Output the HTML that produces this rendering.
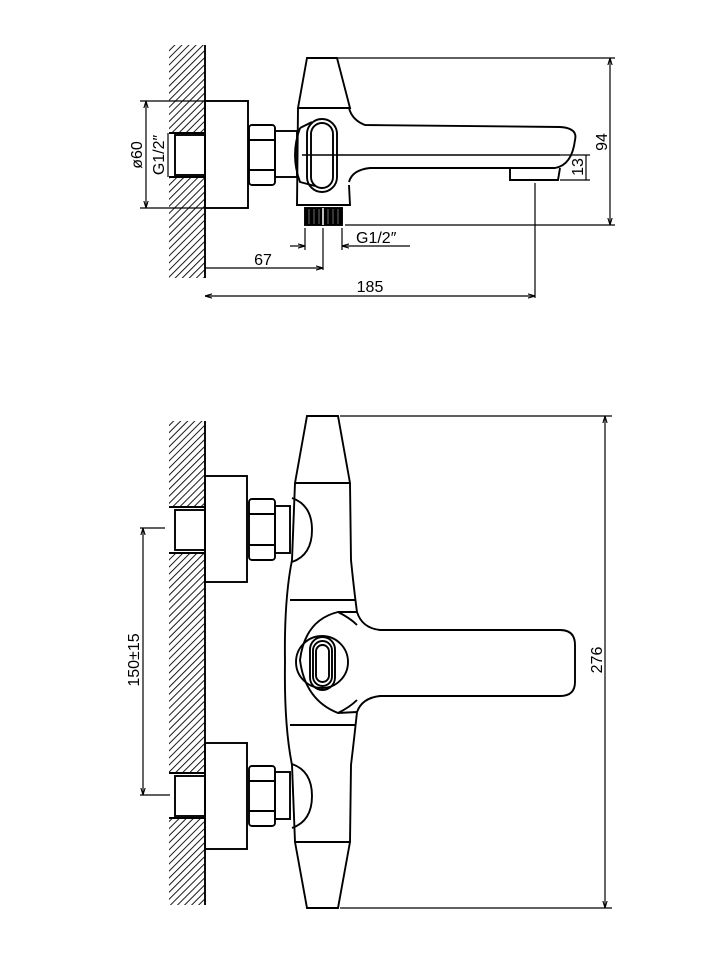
<!DOCTYPE html>
<html><head><meta charset="utf-8"><style>
html,body{margin:0;padding:0;background:#fff}
svg{display:block}
text{font-family:"Liberation Sans",sans-serif;font-size:16px;fill:#000}
</style></head><body>
<svg width="728" height="970" viewBox="0 0 728 970" xmlns="http://www.w3.org/2000/svg">
<defs>
<pattern id="h" patternUnits="userSpaceOnUse" width="5" height="5" patternTransform="rotate(45)">
<line x1="0" y1="0" x2="0" y2="5" stroke="#000" stroke-width="1.8"/>
</pattern>
<marker id="a" viewBox="0 0 10 10" refX="10" refY="5" markerWidth="6" markerHeight="6" orient="auto-start-reverse"><path d="M0,2 L10,5 L0,8" fill="none" stroke="#000" stroke-width="1.5"/></marker>
</defs>
<g fill="none" stroke="#000" stroke-width="1.9">
<!-- TOP VIEW -->
<rect x="169" y="45" width="36" height="88" fill="url(#h)" stroke="none"/>
<rect x="169" y="177" width="36" height="101" fill="url(#h)" stroke="none"/>
<line x1="205" y1="45" x2="205" y2="278"/>
<line x1="169" y1="133" x2="205" y2="133"/><line x1="169" y1="177" x2="205" y2="177"/>
<rect x="175" y="135" width="30" height="40"/>
<rect x="205" y="101" width="43" height="107"/>
<rect x="249" y="125" width="26" height="60" rx="3"/>
<line x1="249" y1="140" x2="275" y2="140"/><line x1="249" y1="170" x2="275" y2="170"/>
<rect x="275" y="131" width="22" height="46"/>
<path d="M307,58 L337,58 L350,108 L298,108 Z"/>
<path d="M298,108 L297,205 L350,205 L349,185"/>
<path d="M349,108 Q352,120 365,125 L560,127 Q578,128 575,140 Q572,165 555,168 L370,168 Q352,170 349,182"/>
<path d="M300,128 Q290,155 300,182 L315,186"/>
<path d="M300,128 L312,122"/>
<rect x="307" y="119" width="30" height="73" rx="15"/>
<rect x="311" y="123" width="22" height="65" rx="11"/>
<line x1="302" y1="155" x2="560" y2="155" stroke-width="1.6"/>
<path d="M510,168 L510,180 L558,180 L560,168"/>
<rect x="305" y="208" width="37" height="17" fill="#000"/>
<g stroke="#888" stroke-width="0.8"><line x1="309" y1="209" x2="309" y2="224"/><line x1="314" y1="209" x2="314" y2="224"/><line x1="319" y1="209" x2="319" y2="224"/><line x1="328" y1="209" x2="328" y2="224"/><line x1="333" y1="209" x2="333" y2="224"/><line x1="338" y1="209" x2="338" y2="224"/></g>
<line x1="323" y1="208" x2="323" y2="225" stroke="#fff" stroke-width="1.5"/>
<!-- top dims -->
<g stroke-width="1.2">
<line x1="338" y1="58" x2="615" y2="58"/><line x1="345" y1="225" x2="615" y2="225"/>
<line x1="610" y1="58" x2="610" y2="225" marker-start="url(#a)" marker-end="url(#a)"/>
<line x1="560" y1="155" x2="590" y2="155"/><line x1="560" y1="180" x2="590" y2="180"/>
<line x1="586" y1="155" x2="586" y2="180"/>
<line x1="535" y1="183" x2="535" y2="298"/>
<line x1="205" y1="296" x2="535" y2="296" marker-start="url(#a)" marker-end="url(#a)"/>
<line x1="323" y1="228" x2="323" y2="270"/>
<line x1="205" y1="268" x2="323" y2="268" marker-end="url(#a)"/>
<line x1="305" y1="228" x2="305" y2="250"/><line x1="342" y1="228" x2="342" y2="250"/>
<line x1="290" y1="246" x2="305" y2="246" marker-end="url(#a)"/>
<line x1="410" y1="246" x2="342" y2="246" marker-end="url(#a)"/>
<line x1="140" y1="101" x2="205" y2="101"/><line x1="140" y1="208" x2="205" y2="208"/>
<line x1="146" y1="101" x2="146" y2="208" marker-start="url(#a)" marker-end="url(#a)"/>
<line x1="168" y1="133" x2="168" y2="177"/>
</g>
<!-- BOTTOM VIEW -->
<rect x="169" y="421" width="36" height="86" fill="url(#h)" stroke="none"/>
<rect x="169" y="553" width="36" height="220" fill="url(#h)" stroke="none"/>
<rect x="169" y="818" width="36" height="87" fill="url(#h)" stroke="none"/>
<line x1="205" y1="421" x2="205" y2="905"/>
<line x1="169" y1="507" x2="205" y2="507"/><line x1="169" y1="553" x2="205" y2="553"/>
<line x1="169" y1="773" x2="205" y2="773"/><line x1="169" y1="818" x2="205" y2="818"/>
<rect x="175" y="510" width="30" height="40"/>
<rect x="175" y="776" width="30" height="40"/>
<rect x="205" y="476" width="42" height="106"/>
<rect x="205" y="743" width="42" height="106"/>
<rect x="249" y="499" width="26" height="61" rx="3"/>
<line x1="249" y1="514" x2="275" y2="514"/><line x1="249" y1="545" x2="275" y2="545"/>
<rect x="249" y="766" width="26" height="60" rx="3"/>
<line x1="249" y1="781" x2="275" y2="781"/><line x1="249" y1="811" x2="275" y2="811"/>
<rect x="275" y="506" width="15" height="47"/>
<rect x="275" y="772" width="15" height="47"/>
<path d="M292,498 Q312,505 312,530 Q312,555 292,562"/>
<path d="M292,764 Q312,771 312,796 Q312,821 292,828"/>
<path d="M307,416 L338,416 L350,483 L295,483 Z"/>
<path d="M307,908 L338,908 L350,842 L295,842 Z"/>
<path d="M295,483 L292,560 Q284,600 285,662 Q284,725 292,765 L295,842"/>
<path d="M350,483 L351,560 Q354,590 357,612"/>
<path d="M357,712 Q354,740 351,765 L350,842"/>
<line x1="290" y1="600" x2="355" y2="600"/>
<line x1="290" y1="725" x2="355" y2="725"/>
<path d="M357,612 Q362,628 380,630 L560,630 Q575,630 575,645 L575,682 Q575,696 560,696 L380,696 Q362,698 357,712"/>
<path d="M357,612 L338,612 Q305,620 300,660 Q305,700 338,713 L357,712"/>
<path d="M338,612 Q350,618 357,625"/><path d="M338,713 Q350,707 357,700"/>
<circle cx="322" cy="662" r="26"/>
<rect x="310" y="637" width="25" height="53" rx="12.5"/>
<rect x="313" y="641" width="19" height="45" rx="9.5"/>
<rect x="316" y="645" width="13" height="37" rx="6.5"/>
<!-- bottom dims -->
<g stroke-width="1.2">
<line x1="340" y1="416" x2="612" y2="416"/><line x1="340" y1="908" x2="612" y2="908"/>
<line x1="605" y1="416" x2="605" y2="908" marker-start="url(#a)" marker-end="url(#a)"/>
<line x1="140" y1="528" x2="165" y2="528"/><line x1="140" y1="795" x2="170" y2="795"/>
<line x1="143" y1="528" x2="143" y2="795" marker-start="url(#a)" marker-end="url(#a)"/>
</g>
</g>
<text x="263" y="265" text-anchor="middle">67</text>
<text x="370" y="292" text-anchor="middle">185</text>
<text x="356" y="243">G1/2″</text>
<text transform="translate(607,142) rotate(-90)" text-anchor="middle">94</text>
<text transform="translate(583,167) rotate(-90)" text-anchor="middle">13</text>
<text transform="translate(142,155) rotate(-90)" text-anchor="middle">ø60</text>
<text transform="translate(164,155) rotate(-90)" text-anchor="middle">G1/2″</text>
<text transform="translate(602,660) rotate(-90)" text-anchor="middle">276</text>
<text transform="translate(139,660) rotate(-90)" text-anchor="middle">150±15</text>
</svg>
</body></html>
